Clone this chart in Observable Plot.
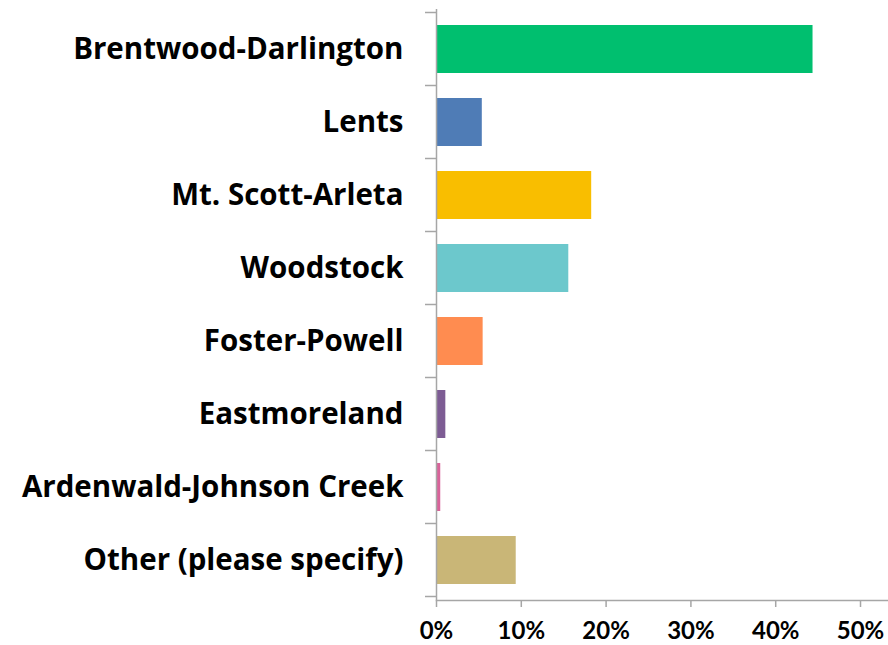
<!DOCTYPE html>
<html>
<head>
<meta charset="utf-8">
<script src="https://cdn.jsdelivr.net/npm/d3@7"></script>
<script src="https://cdn.jsdelivr.net/npm/@observablehq/plot@0.6"></script>
<style>
  html, body { margin: 0; padding: 0; background: #fff; }
  #chart svg { display: block; font-family: Lato, "Open Sans", sans-serif; }
</style>
</head>
<body>
<div id="chart"></div>
<script>
const categories = [
  "Brentwood-Darlington",
  "Lents",
  "Mt. Scott-Arleta",
  "Woodstock",
  "Foster-Powell",
  "Eastmoreland",
  "Ardenwald-Johnson Creek",
  "Other (please specify)"
];
const values = [0.444, 0.054, 0.183, 0.156, 0.055, 0.011, 0.005, 0.094];
const colors = ["#00BF6F", "#4F7CB6", "#F9BE00", "#6CC8CC", "#FF8C50", "#7D5C94", "#D8639A", "#C9B677"];
const xTicks = [0, 0.1, 0.2, 0.3, 0.4, 0.5];

const data = categories.map((name, i) => ({name, value: values[i], color: colors[i]}));
const axisColor = "#A6A6A6";

const plot = Plot.plot({
  width: 888,
  height: 645,
  marginLeft: 436,
  marginRight: 0,
  marginTop: 9,
  marginBottom: 45,
  x: {domain: [0, 0.533]},
  y: {domain: categories, paddingInner: 0.34, paddingOuter: 0.17},
  marks: [
    Plot.barX(data, {x: "value", y: "name", fill: "color"}),
    Plot.ruleX([0], {stroke: axisColor, strokeWidth: 1.5}),
    Plot.frame({anchor: "bottom", stroke: axisColor, strokeWidth: 1.5}),
    Plot.axisY({
      tickSize: 0, tickPadding: 33, fontSize: 29.5, fontWeight: "bold",
      fontFamily: "'Open Sans', Lato, sans-serif",
      fill: "#000", label: null
    }),
    Plot.axisX({
      ticks: xTicks, tickFormat: d3.format(".0%"), tickSize: 7, tickPadding: 14,
      stroke: axisColor, strokeWidth: 1.5, fontSize: 24, fontWeight: "bold",
      fill: "#000", label: null
    })
  ]
});

// Excel-style category boundary ticks on the y axis, from the plot's own y scale
const y = plot.scale("y");
const x0 = plot.scale("x").apply(0);
const step = y.step;
const bounds = categories.map(c => y.apply(c) - (step - y.bandwidth) / 2);
bounds.push(bounds[bounds.length - 1] + step);
const svg = d3.select(plot);
svg.append("g")
  .attr("stroke", axisColor)
  .attr("stroke-width", 1.5)
  .selectAll("line")
  .data(bounds)
  .join("line")
  .attr("x1", x0 - 11)
  .attr("x2", x0)
  .attr("y1", d => d)
  .attr("y2", d => d);

document.getElementById("chart").appendChild(plot);
</script>
</body>
</html>
